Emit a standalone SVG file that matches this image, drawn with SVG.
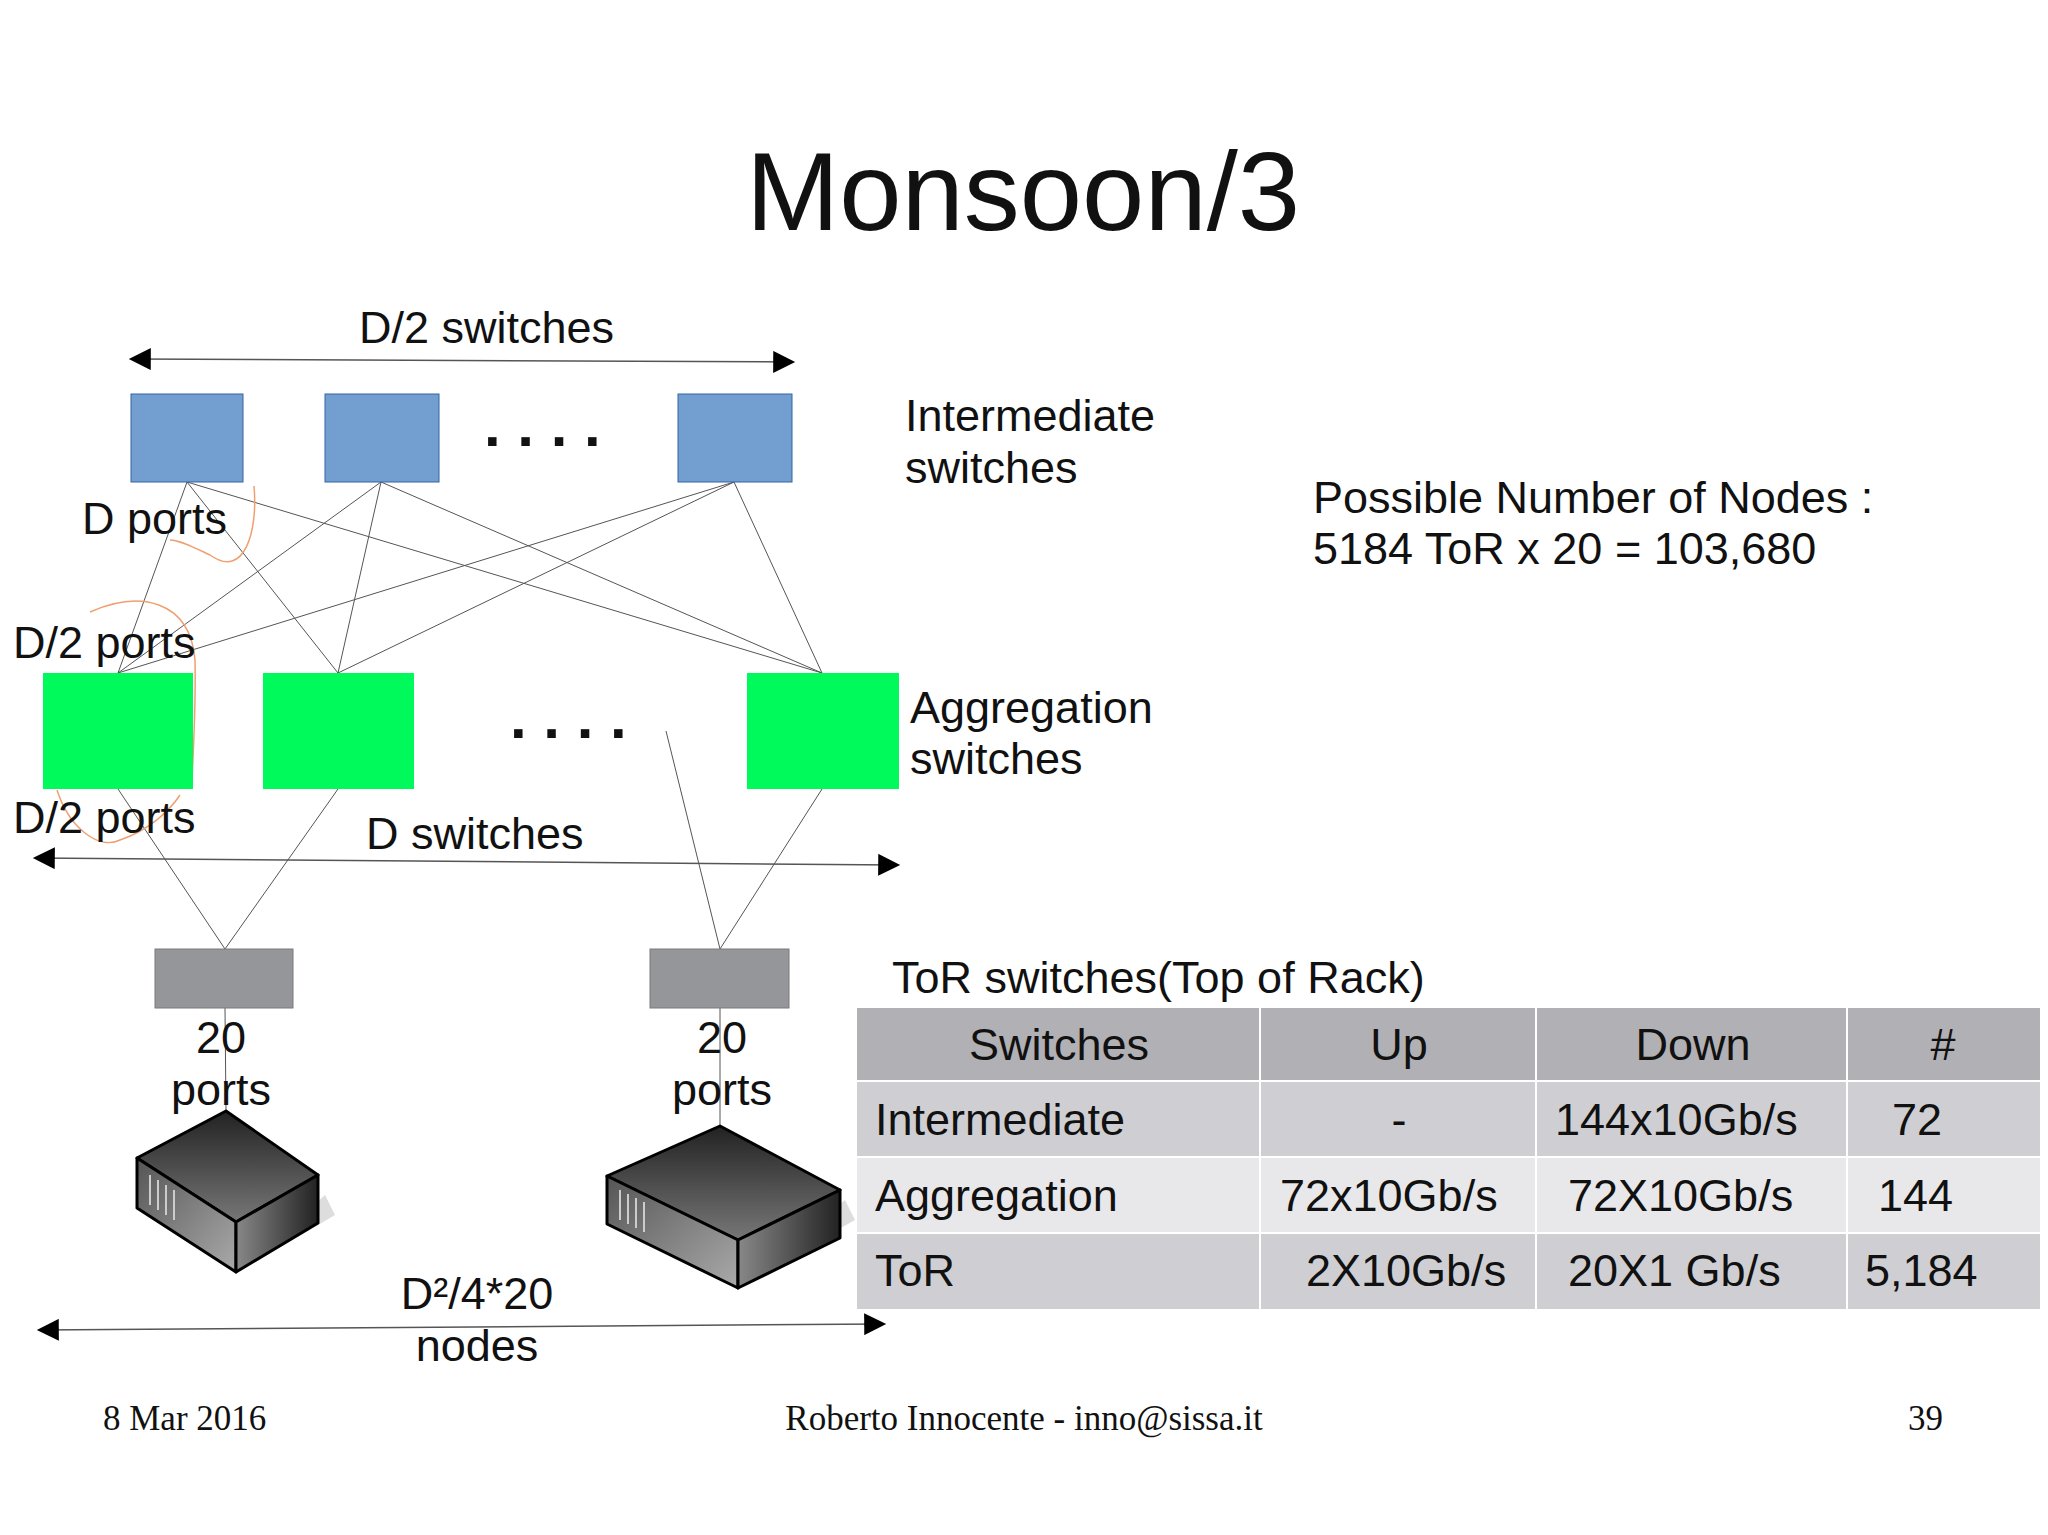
<svg xmlns="http://www.w3.org/2000/svg" width="2048" height="1535" viewBox="0 0 2048 1535">
<defs>
<marker id="ah" viewBox="0 0 10 10" refX="9" refY="5" markerWidth="32" markerHeight="22" markerUnits="userSpaceOnUse" orient="auto-start-reverse"><path d="M0,0 L10,5 L0,10 z" fill="#000"/></marker>
<linearGradient id="tg" x1="0" y1="0" x2="0" y2="1"><stop offset="0" stop-color="#222"/><stop offset="1" stop-color="#777"/></linearGradient>
<linearGradient id="fg" x1="0" y1="0" x2="1" y2="1"><stop offset="0" stop-color="#555"/><stop offset="1" stop-color="#aaa"/></linearGradient>
<linearGradient id="rg" x1="0" y1="0" x2="1" y2="0"><stop offset="0" stop-color="#888"/><stop offset="1" stop-color="#222"/></linearGradient>
</defs>
<style>
text{font-family:"Liberation Sans",Arial,sans-serif;fill:#111}
.t{font-size:45px}
.s{font-family:"Liberation Serif","Times New Roman",serif;font-size:35px}
.blue{fill:#729fcf;stroke:#3465a4;stroke-width:1}
.green{fill:#00fa5c}
.tor{fill:#959699;stroke:#7a7a7a;stroke-width:1}
.ln{stroke:#555;stroke-width:1;fill:none}
.ar{stroke:#555;stroke-width:1.5;fill:none;marker-start:url(#ah);marker-end:url(#ah)}
.or{stroke:#f0a070;stroke-width:1.5;fill:none}
.dot{font-size:60px;font-weight:bold}
</style>
<rect width="2048" height="1535" fill="#fff"/>
<text x="1023" y="230" font-size="112" text-anchor="middle">Monsoon/3</text>
<g id="connectors">
<line class="ar" x1="131" y1="359" x2="793" y2="362"/>
<line class="ar" x1="35" y1="858" x2="898" y2="865"/>
<line class="ar" x1="39" y1="1330" x2="884" y2="1324"/>
<path class="ln" d="M187,482 L118,673 M187,482 L338,673 M187,482 L822,673 M381,482 L118,673 M381,482 L338,673 M381,482 L822,673 M734,482 L118,673 M734,482 L338,673 M734,482 L822,673"/>
<path class="ln" d="M118,789 L225,949 M338,789 L225,949 M666,731 L720,949 M822,789 L720,949 M225,1008 L226,1111 M720,1008 L720,1126"/>
<path class="or" d="M254,486 C258,530 245,580 210,555 C195,548 180,540 170,540"/>
<path class="or" d="M90,612 C140,590 190,600 195,660 C196,700 194,740 192,780"/>
<path class="or" d="M57,790 C70,830 100,850 120,840 C150,830 170,810 180,795"/>
</g>
<g id="int1"><rect class="blue" x="131" y="394" width="112" height="88"/></g>
<g id="int2"><rect class="blue" x="325" y="394" width="114" height="88"/></g>
<g id="int3"><rect class="blue" x="678" y="394" width="114" height="88"/></g>
<text class="dot" x="484" y="446">. . . .</text>
<g id="agg1"><rect class="green" x="43" y="673" width="150" height="116"/></g>
<g id="agg2"><rect class="green" x="263" y="673" width="151" height="116"/></g>
<g id="agg3"><rect class="green" x="747" y="673" width="152" height="116"/></g>
<text class="dot" x="510" y="738">. . . .</text>
<g id="tor1"><rect class="tor" x="155" y="949" width="138" height="59"/></g>
<g id="tor2"><rect class="tor" x="650" y="949" width="139" height="59"/></g>
<text class="t" x="359" y="343">D/2 switches</text>
<text class="t" x="905" y="431">Intermediate</text>
<text class="t" x="905" y="483">switches</text>
<text class="t" x="1313" y="513">Possible Number of Nodes :</text>
<text class="t" x="1313" y="564">5184 ToR x 20 = 103,680</text>
<text class="t" x="910" y="723">Aggregation</text>
<text class="t" x="910" y="774">switches</text>
<text class="t" x="82" y="534">D ports</text>
<text class="t" x="13" y="658">D/2 ports</text>
<text class="t" x="13" y="833">D/2 ports</text>
<text class="t" x="366" y="849">D switches</text>
<text class="t" x="221" y="1053" text-anchor="middle">20</text>
<text class="t" x="221" y="1105" text-anchor="middle">ports</text>
<text class="t" x="722" y="1053" text-anchor="middle">20</text>
<text class="t" x="722" y="1105" text-anchor="middle">ports</text>
<g id="server1" stroke="#000" stroke-width="3" stroke-linejoin="round">
<path d="M245,1268 L335,1215 L325,1195 Z" fill="#ddd" stroke="none"/>
<polygon points="226,1111 318,1175 236,1222 137,1158" fill="url(#tg)"/>
<polygon points="137,1158 236,1222 236,1272 137,1208" fill="url(#fg)"/>
<polygon points="236,1222 318,1175 318,1223 236,1272" fill="url(#rg)"/>
<path d="M150,1175 v30 M158,1180 v30 M166,1185 v30 M174,1190 v30" stroke="#ccc" stroke-width="2"/>
</g>
<g id="server2" stroke="#000" stroke-width="3" stroke-linejoin="round">
<path d="M745,1282 L855,1220 L845,1200 Z" fill="#ddd" stroke="none"/>
<polygon points="720,1126 840,1190 738,1240 607,1176" fill="url(#tg)"/>
<polygon points="607,1176 738,1240 738,1288 607,1224" fill="url(#fg)"/>
<polygon points="738,1240 840,1190 840,1238 738,1288" fill="url(#rg)"/>
<path d="M620,1190 v30 M628,1194 v30 M636,1198 v30 M644,1202 v30" stroke="#ccc" stroke-width="2"/>
</g>
<text class="t" x="477" y="1309" text-anchor="middle">D²/4*20</text>
<text class="t" x="477" y="1361" text-anchor="middle">nodes</text>
<text class="t" x="892" y="993">ToR switches(Top of Rack)</text>
<g id="table">
<rect x="857" y="1008" width="1183" height="73" fill="#b1b0b5"/>
<rect x="857" y="1081" width="1183" height="76" fill="#cfcfd3"/>
<rect x="857" y="1157" width="1183" height="76" fill="#e8e8ea"/>
<rect x="857" y="1233" width="1183" height="76" fill="#cfcfd3"/>
<path d="M1260,1008V1309 M1536,1008V1309 M1847,1008V1309 M857,1081H2040 M857,1157H2040 M857,1233H2040" stroke="#fff" stroke-width="2"/>
<text x="1059" y="1060" text-anchor="middle" class="t">Switches</text>
<text x="1399" y="1060" text-anchor="middle" class="t">Up</text>
<text x="1693" y="1060" text-anchor="middle" class="t">Down</text>
<text x="1943" y="1060" text-anchor="middle" class="t">#</text>
<text x="875" y="1135" class="t">Intermediate</text>
<text x="1399" y="1135" text-anchor="middle" class="t">-</text>
<text x="1555" y="1135" class="t">144x10Gb/s</text>
<text x="1892" y="1135" class="t">72</text>
<text x="875" y="1211" class="t">Aggregation</text>
<text x="1280" y="1211" class="t">72x10Gb/s</text>
<text x="1568" y="1211" class="t">72X10Gb/s</text>
<text x="1878" y="1211" class="t">144</text>
<text x="875" y="1286" class="t">ToR</text>
<text x="1306" y="1286" class="t">2X10Gb/s</text>
<text x="1568" y="1286" class="t">20X1 Gb/s</text>
<text x="1865" y="1286" class="t">5,184</text>
</g>
<text class="s" x="103" y="1430">8 Mar 2016</text>
<text class="s" x="1024" y="1430" text-anchor="middle">Roberto Innocente - inno@sissa.it</text>
<text class="s" x="1908" y="1430">39</text>
</svg>
